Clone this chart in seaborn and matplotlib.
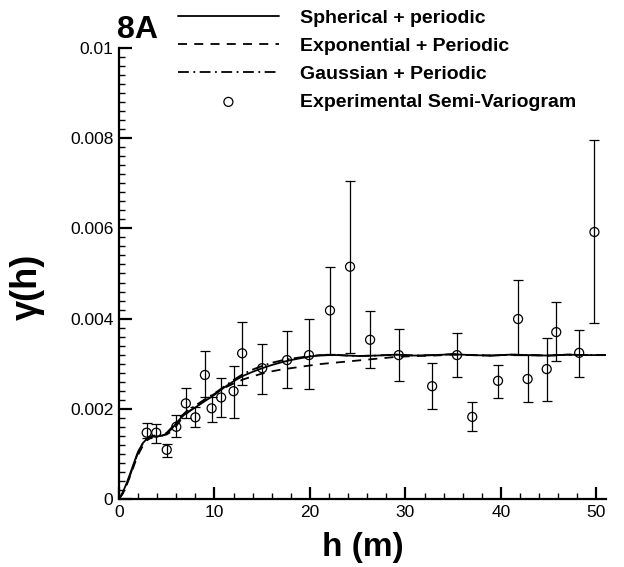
import matplotlib
matplotlib.use("Agg")
import matplotlib.pyplot as plt
from matplotlib.ticker import MultipleLocator, FuncFormatter
import seaborn as sns
import pandas as pd

# experimental semi-variogram (gamma in units of 1e-3)
lag_h = [2.9, 3.9, 5.0, 6.0, 7.0, 8.0, 9.0, 9.7, 10.7, 12.0, 12.9, 15.0, 17.6, 19.9,
         22.1, 24.2, 26.3, 29.3, 32.8, 35.4, 37.0, 39.7, 41.8, 42.8, 44.8, 45.8, 48.2, 49.8]
gamma_exp = [1.47, 1.47, 1.09, 1.60, 2.12, 1.81, 2.75, 2.01, 2.25, 2.39, 3.23, 2.90, 3.08, 3.19,
             4.18, 5.15, 3.53, 3.19, 2.50, 3.19, 1.82, 2.62, 3.99, 2.66, 2.88, 3.70, 3.24, 5.92]
gamma_lo = [1.35, 1.25, 0.93, 1.38, 1.80, 1.59, 2.25, 1.71, 1.81, 1.80, 2.53, 2.33, 2.46, 2.44,
            3.22, 3.24, 2.90, 2.62, 2.00, 2.70, 1.51, 2.24, 3.20, 2.15, 2.17, 3.06, 2.70, 3.90]
gamma_hi = [1.68, 1.66, 1.22, 1.86, 2.46, 2.05, 3.29, 2.27, 2.68, 2.95, 3.93, 3.44, 3.73, 3.99,
            5.14, 7.05, 4.17, 3.77, 3.02, 3.68, 2.15, 2.97, 4.86, 3.20, 3.57, 4.37, 3.75, 7.96]

# fitted models (units of 1e-3)
curve_h = [0, 0.4, 0.8, 1.2, 1.6, 2.0, 2.5, 3.0, 3.5, 4.0, 4.5, 5.0, 5.5, 6.0, 6.5, 7.0,
           8.0, 9.0, 10.0, 11.0, 12.0, 13.0, 14.0, 15.0, 16.0, 17.0, 18.0, 19.0, 20.0,
           21.0, 22.0, 23.0, 25.0, 27.0, 29.0, 31.0, 33.0, 35.0, 37.0, 39.0, 41.0, 43.0,
           45.0, 47.0, 49.0, 51.0]
spherical = [0, 0.15, 0.35, 0.58, 0.82, 1.05, 1.24, 1.35, 1.39, 1.39, 1.40, 1.45, 1.55, 1.68,
             1.80, 1.90, 2.03, 2.17, 2.31, 2.47, 2.61, 2.73, 2.82, 2.90, 2.97, 3.03, 3.08, 3.12,
             3.16, 3.18, 3.19, 3.19, 3.17, 3.18, 3.20, 3.18, 3.19, 3.21, 3.19, 3.18, 3.20, 3.19,
             3.18, 3.20, 3.19, 3.19]
exponential = [0, 0.13, 0.31, 0.52, 0.76, 0.98, 1.18, 1.31, 1.38, 1.40, 1.41, 1.43, 1.50, 1.62,
               1.76, 1.88, 2.05, 2.20, 2.33, 2.46, 2.56, 2.65, 2.72, 2.78, 2.83, 2.87, 2.90, 2.93,
               2.96, 2.99, 3.01, 3.03, 3.07, 3.11, 3.15, 3.17, 3.18, 3.20, 3.19, 3.18, 3.20, 3.19,
               3.18, 3.20, 3.19, 3.19]
gaussian = [0, 0.12, 0.32, 0.55, 0.80, 1.03, 1.23, 1.35, 1.40, 1.41, 1.42, 1.47, 1.58, 1.71,
            1.83, 1.93, 2.07, 2.21, 2.34, 2.49, 2.64, 2.77, 2.87, 2.95, 3.02, 3.07, 3.11, 3.14,
            3.17, 3.19, 3.19, 3.19, 3.17, 3.18, 3.20, 3.18, 3.19, 3.21, 3.19, 3.18, 3.20, 3.19,
            3.18, 3.20, 3.19, 3.19]

sc = 1e-3
pts = pd.DataFrame({"h": lag_h, "g": [v * sc for v in gamma_exp]})
err_lo = [(g - l) * sc for g, l in zip(gamma_exp, gamma_lo)]
err_hi = [(h - g) * sc for g, h in zip(gamma_exp, gamma_hi)]

sns.set_theme(style="ticks")
plt.rcParams["font.family"] = ["Liberation Sans", "DejaVu Sans"]
plt.rcParams["text.color"] = "black"
plt.rcParams["axes.labelcolor"] = "black"

fig = plt.figure(figsize=(6.24, 5.67), dpi=100)
ax = fig.add_axes([0.1907, 0.120, 0.7803, 0.7953])

models = [(spherical, "Spherical + periodic", "-"),
          (exponential, "Exponential + Periodic", (0, (5, 4))),
          (gaussian, "Gaussian + Periodic", (0, (6, 2.5, 1, 2.5)))]
for vals, name, ls in models:
    sns.lineplot(x=curve_h, y=[v * sc for v in vals], ax=ax, color="black",
                 linewidth=1.3, linestyle=ls, label=name, sort=False, estimator=None)

ax.errorbar(pts["h"], pts["g"], yerr=[err_lo, err_hi], fmt="none", ecolor="black",
            elinewidth=0.9, capsize=3.5, capthick=0.9)
sns.scatterplot(data=pts, x="h", y="g", ax=ax, marker="o", s=42, facecolor="none",
                edgecolor="black", linewidth=0.9, label="Experimental Semi-Variogram",
                zorder=3)

ax.set_xlim(0, 51)
ax.set_ylim(0, 0.01)
ax.xaxis.set_major_locator(MultipleLocator(10))
ax.xaxis.set_minor_locator(MultipleLocator(2))
ax.yaxis.set_major_locator(MultipleLocator(0.002))
ax.yaxis.set_minor_locator(MultipleLocator(0.0002))
ax.yaxis.set_major_formatter(FuncFormatter(lambda v, p: "%g" % round(v, 4)))
ax.tick_params(which="major", direction="in", length=9, width=1.6, labelsize=12.5,
               color="black", labelcolor="black", pad=4)
ax.tick_params(which="minor", direction="in", length=4.5, width=1.0, color="black")
sns.despine(ax=ax)
for s in ["left", "bottom"]:
    ax.spines[s].set_linewidth(1.6)
    ax.spines[s].set_color("black")

ax.set_xlabel("h (m)", fontsize=24, fontweight="bold", labelpad=9, color="black")
ax.set_ylabel("γ(h)", fontsize=26, fontweight="bold", color="black")
ax.yaxis.set_label_coords(-0.152, 0.47)

fig.text(0.188, 0.947, "8A", fontsize=23, fontweight="bold", va="center", ha="left",
         color="black")

handles, labels = ax.get_legend_handles_labels()
leg = ax.legend(handles, labels, loc="upper left", bbox_to_anchor=(0.285, 0.983),
                bbox_transform=fig.transFigure, frameon=False, borderpad=0, borderaxespad=0,
                handlelength=5.2, handletextpad=1.1, labelspacing=0.53,
                prop={"size": 14, "weight": "bold"})
for t in leg.get_texts():
    t.set_color("black")

fig.savefig("out.png", dpi=100)
